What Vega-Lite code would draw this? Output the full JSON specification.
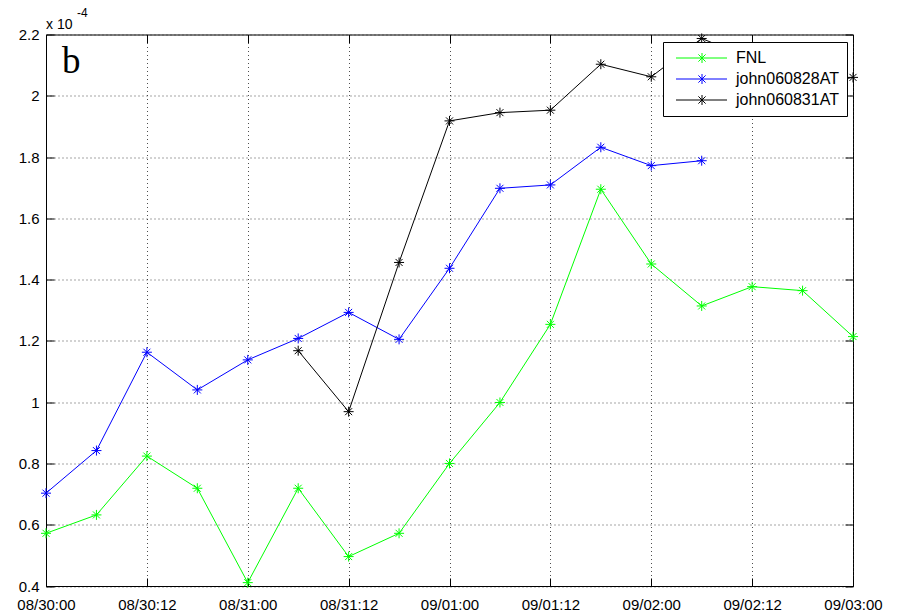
{
  "$schema": "https://vega.github.io/schema/vega-lite/v6.json",
  "width": 807,
  "height": 551.5,
  "autosize": {"type": "none"},
  "padding": {"left": 46, "top": 34.5, "right": 46, "bottom": 28},
  "background": "white",
  "config": {
    "view": {"stroke": "black", "strokeWidth": 1},
    "font": "Liberation Sans",
    "axis": {
      "labelFont": "Liberation Sans",
      "labelFontSize": 15,
      "labelColor": "black",
      "tickColor": "black",
      "tickSize": -8,
      "domainColor": "black",
      "gridColor": "#222222",
      "gridDash": [1, 3],
      "gridOpacity": 0.8,
      "title": null
    }
  },
  "data": {
    "values": [
      {"series": "FNL", "hour": 0, "value": 0.572},
      {"series": "FNL", "hour": 6, "value": 0.632},
      {"series": "FNL", "hour": 12, "value": 0.824},
      {"series": "FNL", "hour": 18, "value": 0.719},
      {"series": "FNL", "hour": 24, "value": 0.411},
      {"series": "FNL", "hour": 30, "value": 0.719},
      {"series": "FNL", "hour": 36, "value": 0.496},
      {"series": "FNL", "hour": 42, "value": 0.572},
      {"series": "FNL", "hour": 48, "value": 0.80},
      {"series": "FNL", "hour": 54, "value": 0.999},
      {"series": "FNL", "hour": 60, "value": 1.254},
      {"series": "FNL", "hour": 66, "value": 1.695},
      {"series": "FNL", "hour": 72, "value": 1.451},
      {"series": "FNL", "hour": 78, "value": 1.314},
      {"series": "FNL", "hour": 84, "value": 1.377},
      {"series": "FNL", "hour": 90, "value": 1.364},
      {"series": "FNL", "hour": 96, "value": 1.214},
      {"series": "john060828AT", "hour": 0, "value": 0.703},
      {"series": "john060828AT", "hour": 6, "value": 0.842},
      {"series": "john060828AT", "hour": 12, "value": 1.163},
      {"series": "john060828AT", "hour": 18, "value": 1.040},
      {"series": "john060828AT", "hour": 24, "value": 1.138},
      {"series": "john060828AT", "hour": 30, "value": 1.208},
      {"series": "john060828AT", "hour": 36, "value": 1.293},
      {"series": "john060828AT", "hour": 42, "value": 1.205},
      {"series": "john060828AT", "hour": 48, "value": 1.437},
      {"series": "john060828AT", "hour": 54, "value": 1.698},
      {"series": "john060828AT", "hour": 60, "value": 1.709},
      {"series": "john060828AT", "hour": 66, "value": 1.832},
      {"series": "john060828AT", "hour": 72, "value": 1.772},
      {"series": "john060828AT", "hour": 78, "value": 1.788},
      {"series": "john060831AT", "hour": 30, "value": 1.168},
      {"series": "john060831AT", "hour": 36, "value": 0.969},
      {"series": "john060831AT", "hour": 42, "value": 1.456},
      {"series": "john060831AT", "hour": 48, "value": 1.918},
      {"series": "john060831AT", "hour": 54, "value": 1.945},
      {"series": "john060831AT", "hour": 60, "value": 1.953},
      {"series": "john060831AT", "hour": 66, "value": 2.103},
      {"series": "john060831AT", "hour": 72, "value": 2.062},
      {"series": "john060831AT", "hour": 78, "value": 2.187},
      {"series": "john060831AT", "hour": 84, "value": 2.12},
      {"series": "john060831AT", "hour": 90, "value": 2.03},
      {"series": "john060831AT", "hour": 96, "value": 2.06}
    ]
  },
  "layer": [
    {
      "mark": {"type": "line", "strokeWidth": 1},
      "encoding": {
        "x": {
          "field": "hour", "type": "quantitative",
          "scale": {"domain": [0, 96], "nice": false, "zero": false},
          "axis": {
            "orient": "bottom",
            "values": [0, 12, 24, 36, 48, 60, 72, 84, 96],
            "labelExpr": "timeFormat(datetime(2006, 7, 30, datum.value), '%m/%d:%H')",
            "labelPadding": 19,
            "labelFlush": false,
            "grid": true
          }
        },
        "y": {
          "field": "value", "type": "quantitative",
          "scale": {"domain": [0.4, 2.2], "nice": false, "zero": false},
          "axis": {
            "orient": "left",
            "values": [0.4, 0.6, 0.8, 1.0, 1.2, 1.4, 1.6, 1.8, 2.0, 2.2],
            "format": ".1~f",
            "labelPadding": 15,
            "labelFlush": false,
            "grid": true
          }
        },
        "color": {
          "field": "series", "type": "nominal",
          "scale": {"domain": ["FNL", "john060828AT", "john060831AT"], "range": ["#00ff00", "#0000ff", "#000000"]},
          "legend": {
            "title": null,
            "orient": "none",
            "legendX": 617,
            "legendY": 7.5,
            "symbolType": "M-0.75,0L12,0M5.75,-1.25L5.75,1.25M4.85,-0.9L6.65,0.9M4.85,0.9L6.65,-0.9",
            "symbolSize": 64,
            "symbolStrokeWidth": 1,
            "symbolFillColor": "transparent",
            "labelOffset": 49,
            "labelFont": "Liberation Sans",
            "labelFontSize": 16,
            "labelColor": "black",
            "padding": 8,
            "rowPadding": 5,
            "strokeColor": "black",
            "fillColor": "white"
          }
        }
      }
    },
    {
      "mark": {"type": "point", "shape": "M-1,0L1,0M0,-1L0,1M-0.7,-0.7L0.7,0.7M-0.7,0.7L0.7,-0.7", "filled": false, "size": 100, "strokeWidth": 1, "opacity": 1},
      "encoding": {
        "x": {
          "field": "hour", "type": "quantitative",
          "axis": {"orient": "top", "labels": false, "grid": false, "domain": false, "values": [0, 12, 24, 36, 48, 60, 72, 84, 96]}
        },
        "y": {
          "field": "value", "type": "quantitative",
          "axis": {"orient": "right", "labels": false, "grid": false, "domain": false, "values": [0.4, 0.6, 0.8, 1.0, 1.2, 1.4, 1.6, 1.8, 2.0, 2.2]}
        },
        "color": {"field": "series", "type": "nominal"}
      }
    },
    {
      "data": {"values": [{"t": "b"}]},
      "mark": {"type": "text", "font": "Liberation Serif", "fontSize": 37, "align": "left", "baseline": "alphabetic", "color": "black"},
      "encoding": {
        "x": {"datum": 1.9, "type": "quantitative", "axis": null},
        "y": {"datum": 2.074, "type": "quantitative", "axis": null},
        "text": {"field": "t"}
      }
    },
    {
      "data": {"values": [{"t": "x 10"}]},
      "mark": {"type": "text", "font": "Liberation Sans", "fontSize": 14, "align": "left", "baseline": "alphabetic", "dy": -6, "color": "black"},
      "encoding": {
        "x": {"datum": 0, "type": "quantitative", "axis": null},
        "y": {"datum": 2.2, "type": "quantitative", "axis": null},
        "text": {"field": "t"}
      }
    },
    {
      "data": {"values": [{"t": "-4"}]},
      "mark": {"type": "text", "font": "Liberation Sans", "fontSize": 12, "align": "left", "baseline": "alphabetic", "dx": 31, "dy": -18, "color": "black"},
      "encoding": {
        "x": {"datum": 0, "type": "quantitative", "axis": null},
        "y": {"datum": 2.2, "type": "quantitative", "axis": null},
        "text": {"field": "t"}
      }
    }
  ],
  "resolve": {"axis": {"x": "independent", "y": "independent"}}
}
